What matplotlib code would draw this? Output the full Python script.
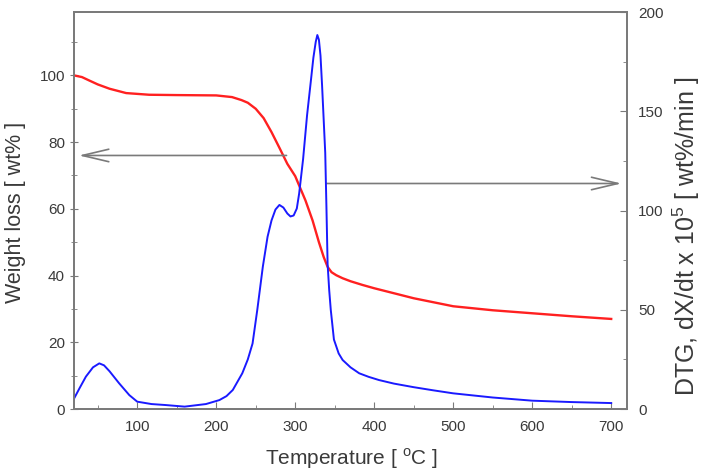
import numpy as np
import matplotlib
matplotlib.use("Agg")
import matplotlib.pyplot as plt
from matplotlib.ticker import MultipleLocator

plt.rcParams["font.family"] = ["Liberation Sans", "DejaVu Sans"]
plt.rcParams["mathtext.fontset"] = "custom"
plt.rcParams["mathtext.rm"] = "Liberation Sans"

# weight loss curve (left axis)
temp_tg = [20, 30, 39, 50, 65, 86, 115, 150, 200, 220, 232, 240, 250, 260,
           270, 280, 290, 300, 313, 322, 330, 336, 341, 346, 352, 360, 370,
           385, 400, 450, 500, 550, 600, 650, 700]
weight = [100, 99.5, 98.5, 97.3, 96, 94.7, 94.2, 94.1, 94.0, 93.5, 92.6,
          91.8, 90.0, 87.2, 83.0, 78.3, 73.5, 69.8, 62.5, 56.5, 50.0, 45.6,
          42.6, 41.0, 40.1, 39.2, 38.3, 37.2, 36.2, 33.2, 30.8, 29.6, 28.7,
          27.8, 27.0]

# DTG curve (right axis)
temp_dtg = [19, 27, 35, 44, 52, 58, 65, 77, 90, 100, 118, 136, 160, 187, 204,
            213, 221, 233, 240, 246, 252, 259, 265, 270, 275, 280, 285, 290,
            294, 298, 302, 305, 310, 315, 320, 323, 326, 328, 330, 332, 334,
            336, 338, 339.5, 341, 343, 345, 349, 355, 360, 370, 381, 393, 406,
            425, 450, 475, 500, 550, 600, 650, 700]
dtg = [4.5, 10.5, 16.3, 21, 23, 22, 19, 13, 7, 3.7, 2.5, 2, 1.2, 2.5, 4.5,
       6.5, 9.6, 18, 25, 33, 50, 71.7, 86.8, 95, 100.5, 102.8, 101.5, 98.5, 97,
       97.5, 101, 108.6, 126, 148, 166, 177, 185, 188.4, 186, 178, 163, 146,
       129, 102, 73, 60, 50, 35, 28, 24.7, 21, 18, 16.2, 14.6, 12.8, 11, 9.4,
       7.9, 5.8, 4.2, 3.5, 3]

grey = "#7a7a7a"
text_c = "#3a3a3a"

fig = plt.figure(figsize=(7.03, 4.71), dpi=100)
ax = fig.add_axes([0.1053, 0.1316, 0.7866, 0.8429])
ax2 = ax.twinx()

ax.plot(temp_tg, weight, color="#ff2020", lw=1.7, zorder=3)
ax2.plot(temp_dtg, dtg, color="#1a1aff", lw=1.4, zorder=2)

ax.set_xlim(20, 720)
ax.set_ylim(0, 119)
ax2.set_ylim(0, 200)

ax.xaxis.set_major_locator(MultipleLocator(100))
ax.xaxis.set_minor_locator(MultipleLocator(50))
ax.yaxis.set_major_locator(MultipleLocator(20))
ax.yaxis.set_minor_locator(MultipleLocator(10))
ax2.yaxis.set_major_locator(MultipleLocator(50))
ax2.yaxis.set_minor_locator(MultipleLocator(25))
ax.set_xticks([100, 200, 300, 400, 500, 600, 700])

for a in (ax, ax2):
    for s in a.spines.values():
        s.set_color(grey)
        s.set_linewidth(1.3)
ax.tick_params(axis="x", which="both", direction="in", colors=grey,
               labelcolor=text_c, labelsize=11, pad=8)
ax.tick_params(axis="x", which="major", length=5)
ax.tick_params(axis="x", which="minor", length=3)
ax.tick_params(axis="y", which="both", direction="inout", colors=grey,
               labelcolor=text_c, labelsize=11)
ax.tick_params(axis="y", which="major", length=6)
ax.tick_params(axis="y", which="minor", length=4)
ax2.tick_params(axis="y", which="both", direction="in", colors=grey,
                labelcolor=text_c, labelsize=11, pad=8)
ax2.tick_params(axis="y", which="major", length=5)
ax2.tick_params(axis="y", which="minor", length=3)

ax.set_xlabel("Temperature [ $^{\\mathrm{o}}$C ]", fontsize=15, color=text_c)
ax.xaxis.label.set(va="baseline", ha="center")
ax.xaxis.set_label_coords(0.501, -0.140)

ax.set_ylabel("Weight loss [ wt% ]", fontsize=15.5, color=text_c)
ax.yaxis.label.set(rotation_mode="anchor", va="center", ha="center")
ax.yaxis.set_label_coords(-0.105, 0.495)

ax2.set_ylabel("DTG, dX/dt x 10$^{5}$ [ wt%/min ]", fontsize=18,
               color=text_c, rotation=90)
ax2.yaxis.label.set(rotation_mode="anchor", va="center", ha="center")
ax2.yaxis.set_label_coords(1.107, 0.435)

# arrows pointing to the relevant axis
arrow = dict(arrowstyle="->, head_length=1.9, head_width=0.45", color=grey,
             lw=1.2, shrinkA=0, shrinkB=0)
ax.annotate("", xy=(26, 76), xytext=(289, 76), arrowprops=arrow)
ax.annotate("", xy=(713, 67.6), xytext=(339, 67.6), arrowprops=arrow)

fig.savefig("out.png", dpi=100)
